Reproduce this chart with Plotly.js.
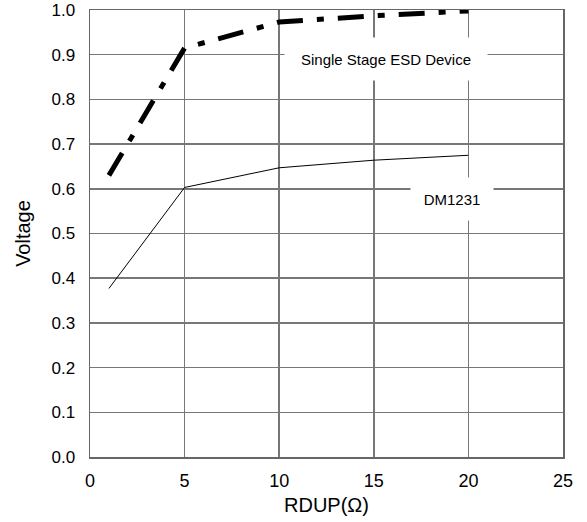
<!DOCTYPE html>
<html>
<head>
<meta charset="utf-8">
<script src="https://cdn.plot.ly/plotly-3.0.1.min.js"></script>
<style>html,body{margin:0;padding:0;background:#fff;}#chart{width:587px;height:522px;}</style>
</head>
<body>
<div id="chart"></div>
<script>
const rdup = [1, 5, 10, 15, 20];
const singleStage = [0.63, 0.915, 0.973, 0.987, 0.998];
const dm1231 = [0.377, 0.603, 0.647, 0.664, 0.675];
const xTicks = [0, 5, 10, 15, 20, 25];
const yTicks = [0, 0.1, 0.2, 0.3, 0.4, 0.5, 0.6, 0.7, 0.8, 0.9, 1.0];
const yTickText = ["0.0","0.1","0.2","0.3","0.4","0.5","0.6","0.7","0.8","0.9","1.0"];

const font = "Liberation Sans, Arial, sans-serif";

const traces = [
  {x: rdup, y: singleStage, mode: "lines", name: "Single Stage ESD Device",
   line: {color: "#000", width: 5, dash: "26px,14px,7px,14px"}},
  {x: rdup, y: dm1231, mode: "lines", name: "DM1231",
   line: {color: "#000", width: 1}}
];

const layout = {
  width: 587, height: 522,
  margin: {l: 90, r: 24, t: 10, b: 65},
  paper_bgcolor: "#fff", plot_bgcolor: "#fff",
  showlegend: false,
  font: {family: font, color: "#000", size: 17},
  xaxis: {
    range: [0, 25], tickvals: xTicks, ticktext: xTicks.map(String),
    showgrid: true, gridcolor: "#777", gridwidth: 1.5,
    showline: true, linecolor: "#666", linewidth: 1.5, mirror: true,
    zeroline: false, ticks: "", ticklabelstandoff: 7, ticklabeloverflow: "allow",
    tickfont: {family: font, size: 18, color: "#000"},
    title: {text: "RDUP(Ω)", font: {family: font, size: 20, color: "#000"}, standoff: 8}
  },
  yaxis: {
    range: [0, 1.0], tickvals: yTicks, ticktext: yTickText,
    showgrid: true, gridcolor: "#777", gridwidth: 1.5,
    showline: true, linecolor: "#666", linewidth: 1.5, mirror: true,
    zeroline: false, ticks: "", ticklabelstandoff: 10, ticklabeloverflow: "allow",
    tickfont: {family: font, size: 17, color: "#000"},
    title: {text: "Voltage", font: {family: font, size: 20, color: "#000"}, standoff: 15}
  },
  annotations: [
    {x: 15.67, y: 0.89, xref: "x", yref: "y", text: "Single Stage ESD Device",
     showarrow: false, bgcolor: "#fff", width: 200, height: 40,
     font: {family: font, size: 15, color: "#000"}},
    {x: 19.15, y: 0.578, xref: "x", yref: "y", text: "DM1231",
     showarrow: false, bgcolor: "#fff", width: 80, height: 40,
     font: {family: font, size: 15, color: "#000"}}
  ]
};

Plotly.newPlot("chart", traces, layout, {displayModeBar: false, staticPlot: true});
</script>
</body>
</html>
